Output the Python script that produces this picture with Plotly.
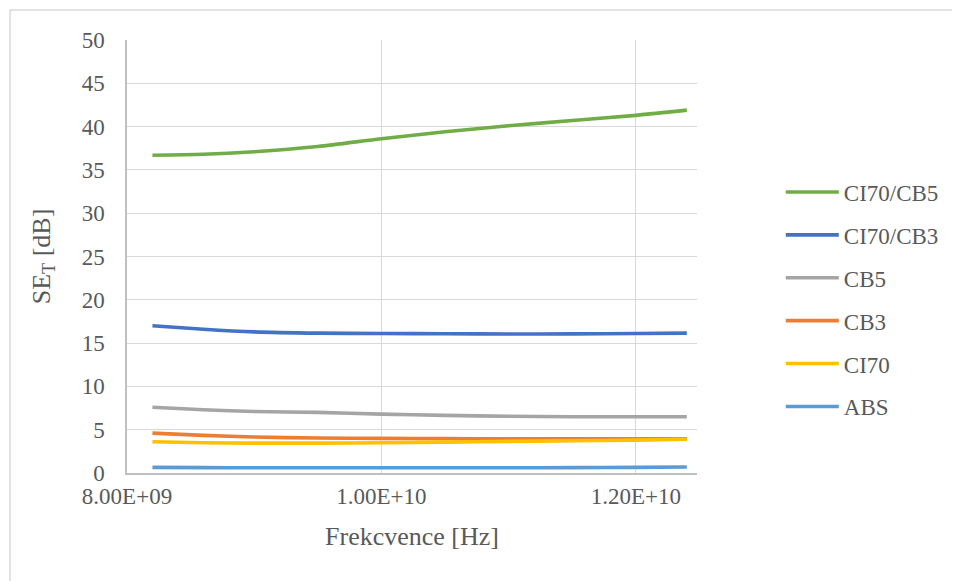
import plotly.graph_objects as go

freq = [8.2e9, 8.6e9, 9.0e9, 9.5e9, 10.0e9, 10.5e9, 11.0e9, 11.5e9, 12.0e9, 12.4e9]
ci70_cb5 = [36.7, 36.8, 37.1, 37.7, 38.6, 39.4, 40.1, 40.7, 41.3, 41.9]
ci70_cb3 = [17.0, 16.6, 16.3, 16.15, 16.1, 16.08, 16.05, 16.07, 16.1, 16.15]
cb5 = [7.6, 7.3, 7.1, 7.0, 6.8, 6.65, 6.55, 6.5, 6.5, 6.5]
cb3 = [4.6, 4.35, 4.15, 4.05, 4.0, 3.97, 3.95, 3.95, 3.95, 3.95]
ci70 = [3.6, 3.5, 3.45, 3.45, 3.5, 3.57, 3.65, 3.72, 3.8, 3.9]
abs_ = [0.65, 0.62, 0.6, 0.6, 0.6, 0.6, 0.6, 0.62, 0.65, 0.7]

series = [
    ("CI70/CB5", ci70_cb5, "#70AD47"),
    ("CI70/CB3", ci70_cb3, "#4472C4"),
    ("CB5", cb5, "#A5A5A5"),
    ("CB3", cb3, "#ED7D31"),
    ("CI70", ci70, "#FFC000"),
    ("ABS", abs_, "#5B9BD5"),
]

x_tickvals = [8e9, 1e10, 1.2e10]
x_ticktext = ["8.00E+09", "1.00E+10", "1.20E+10"]
y_tickvals = [0, 5, 10, 15, 20, 25, 30, 35, 40, 45, 50]

fig = go.Figure()
for i, (name, vals, color) in enumerate(series):
    fig.add_trace(go.Scatter(
        x=freq, y=vals, name=name, mode="lines",
        line=dict(color=color, width=3.6, shape="spline", smoothing=0.8),
        legendgroup=f"g{i}",
    ))

FF = "Liberation Serif"
TXT = "#595959"
L, R, T, B = 119, 271, 32, 116
PW, PH = 960 - L - R, 581 - T - B

fig.update_layout(
    width=960, height=581,
    margin=dict(l=L, r=R, t=T, b=B, autoexpand=False),
    paper_bgcolor="white", plot_bgcolor="white",
    font=dict(family=FF, color=TXT, size=23),
    showlegend=True,
    legend=dict(
        x=1.147, xanchor="left", y=0.4007, yanchor="middle",
        font=dict(family=FF, size=23, color=TXT),
        tracegroupgap=10, itemwidth=53, bgcolor="rgba(0,0,0,0)",
    ),
    xaxis=dict(
        range=[8e9, 1.248e10],
        tickvals=x_tickvals, ticktext=x_ticktext,
        tickfont=dict(family=FF, size=23, color=TXT),
        showgrid=True, gridcolor="#D9D9D9", gridwidth=1,
        showline=True, linecolor="#BFBFBF", linewidth=1.5,
        ticks="outside", ticklen=2, tickcolor="rgba(0,0,0,0)",
        zeroline=False, automargin=False,
        title=dict(text="Frekcvence [Hz]", font=dict(family=FF, size=26, color=TXT), standoff=18),
    ),
    yaxis=dict(
        range=[0, 50],
        tickvals=y_tickvals,
        tickfont=dict(family=FF, size=23, color=TXT),
        showgrid=True, gridcolor="#D9D9D9", gridwidth=1,
        showline=True, linecolor="#BFBFBF", linewidth=1.5,
        ticks="outside", ticklen=16, tickcolor="rgba(0,0,0,0)",
        zeroline=False, automargin=False,
        title=dict(text="SE<sub>T</sub> [dB]", font=dict(family=FF, size=26, color=TXT), standoff=24),
    ),
    shapes=[dict(
        type="rect", xref="paper", yref="paper",
        x0=(2 - L) / PW, x1=(1000 - L) / PW,
        y0=-(620 - T - PH) / PH, y1=(PH + T - 2) / PH,
        line=dict(color="#D9D9D9", width=1.5), fillcolor="rgba(0,0,0,0)", layer="below",
    )],
)

fig.write_html("out.html")
